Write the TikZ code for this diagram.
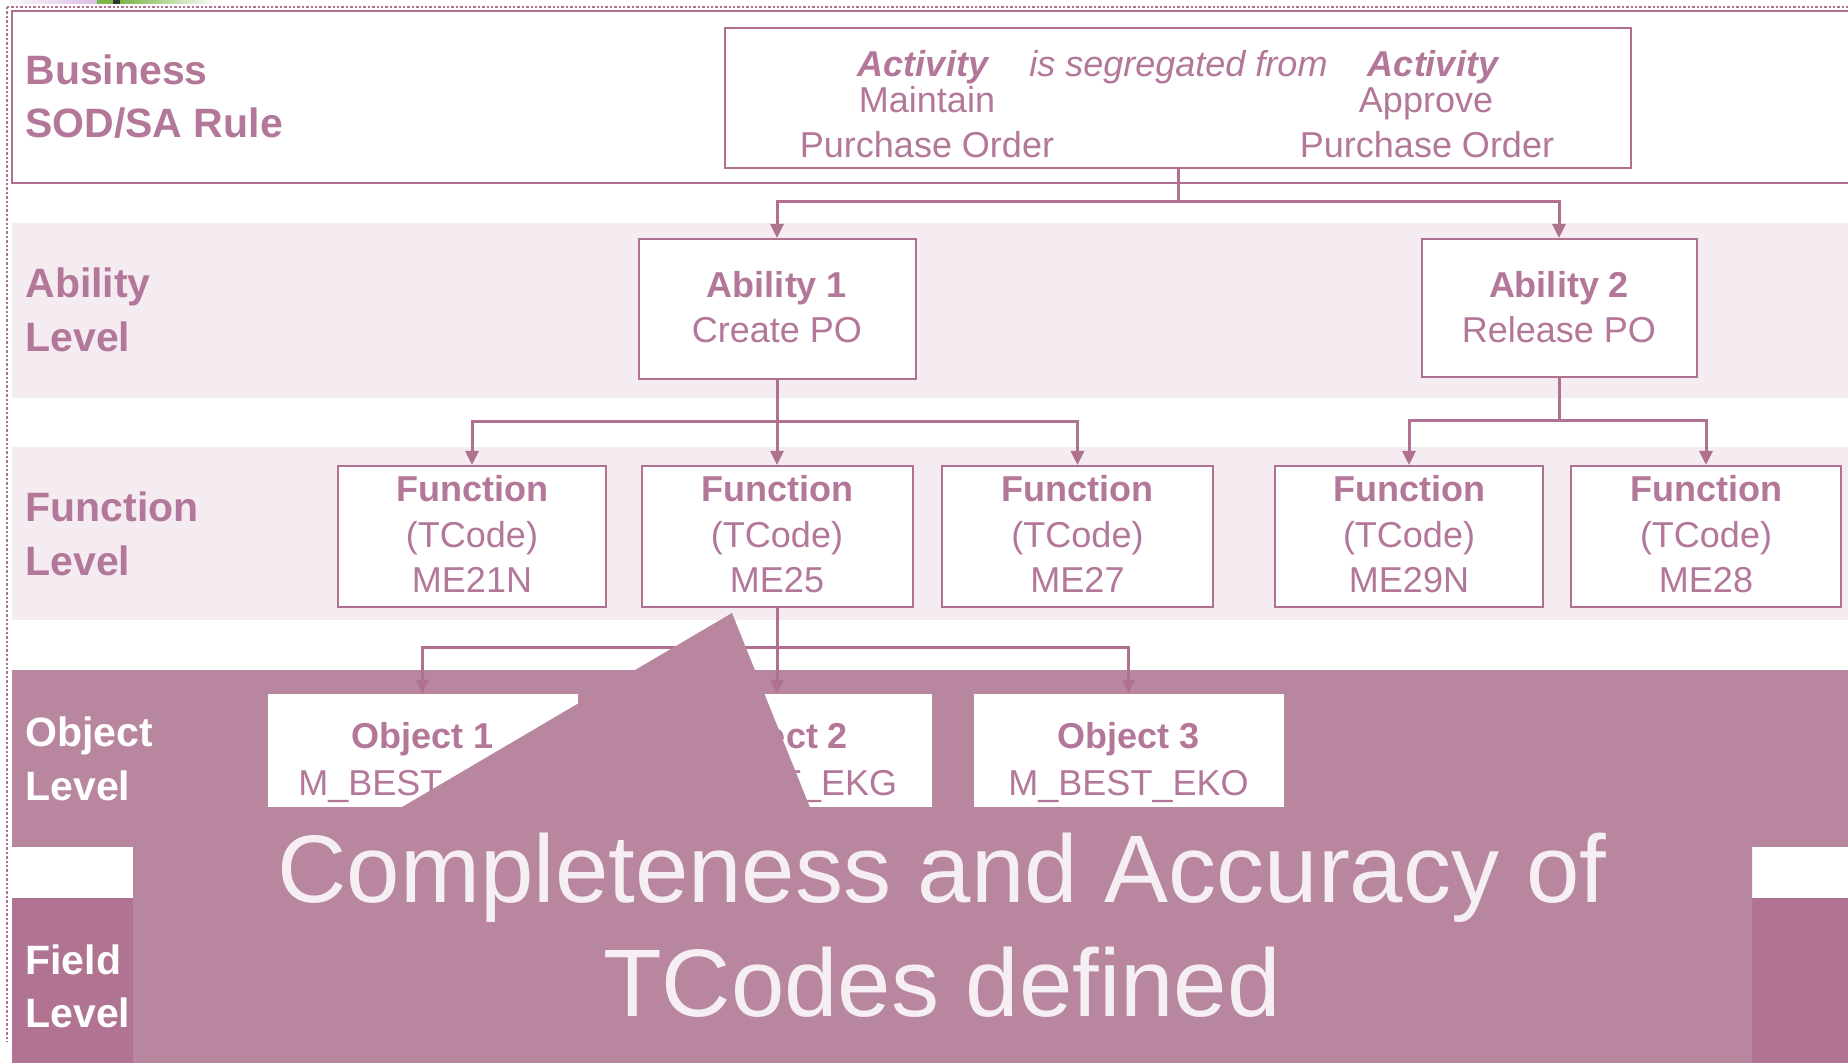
\documentclass[tikz,border=0pt]{standalone}
\usepackage{fontspec}
\setmainfont{Liberation Sans}
\usetikzlibrary{arrows.meta}
\definecolor{linecol}{HTML}{B0708F}
\definecolor{txtcol}{HTML}{B3779A}
\definecolor{lightband}{HTML}{F4ECF0}
\definecolor{objband}{HTML}{B9869F}
\definecolor{fieldband}{HTML}{B07492}
\definecolor{calltxt}{HTML}{F5EEF2}
\definecolor{artgreen}{HTML}{7AB648}
\definecolor{artlav}{HTML}{D9BDE3}
\begin{document}
\begin{tikzpicture}[x=0.5pt,y=-0.5pt,
  box/.style={draw=linecol,line width=1pt,fill=white,inner sep=0pt},
  objbox/.style={fill=white,inner sep=0pt},
  conn/.style={draw=linecol,line width=1.5pt},
  arr/.style={conn,-{Triangle[length=7pt,width=6.5pt]}},
  lvl/.style={anchor=base west,font=\fontsize{20.5pt}{24pt}\selectfont\bfseries,text=txtcol,inner sep=0pt},
  lvlw/.style={lvl,text=white},
  bt/.style={anchor=base,font=\fontsize{18pt}{22pt}\selectfont\bfseries,text=txtcol,inner sep=0pt},
  rt/.style={anchor=base,font=\fontsize{18pt}{22pt}\selectfont,text=txtcol,inner sep=0pt},
  bit/.style={anchor=base,font=\fontsize{18pt}{22pt}\selectfont\bfseries\itshape,text=txtcol,inner sep=0pt},
  itx/.style={anchor=base west,font=\fontsize{18pt}{22pt}\selectfont\itshape,text=txtcol,inner sep=0pt},
  bigt/.style={anchor=base,font=\fontsize{48pt}{57pt}\selectfont,text=calltxt,inner sep=0pt},
  dotline/.style={draw=linecol,line width=1pt,dash pattern=on 1.2pt off 1pt}]
\useasboundingbox (0,0) rectangle (1848,1063);
\fill[white] (0,0) rectangle (1848,1063);
% top-left artifact
\shade[left color=white,right color=artlav] (0,0) rectangle (97,4);
\fill[artgreen] (97,0) rectangle (113,4);
\fill[black!80] (113,0) rectangle (120,4);
\shade[left color=artgreen,right color=white] (120,0) rectangle (218,4);
% bands
\draw[linecol,line width=1pt] (1848,11) -- (12,11) -- (12,183) -- (1848,183);
\fill[lightband] (12,223) rectangle (1848,398);
\fill[lightband] (12,447) rectangle (1848,620);
\fill[objband] (12,670) rectangle (1848,847);
\fill[fieldband] (12,898) rectangle (1848,1063);
% margin dotted lines
\draw[dotline] (7,7) -- (1848,7);
\draw[dotline] (7,7) -- (7,1042);
% level labels
\node[lvl] (lb1) at (25,85) {Business};
\node[lvl] (lb2) at (25,138) {SOD/SA Rule};
\node[lvl] (la1) at (25,298) {Ability};
\node[lvl] (la2) at (25,352) {Level};
\node[lvl] (lf1) at (25,522) {Function};
\node[lvl] (lf2) at (25,576) {Level};
\node[lvlw] (lo1) at (25,747) {Object};
\node[lvlw] (lo2) at (25,800) {Level};
\node[lvlw] (lfl1) at (25,974) {Field};
\node[lvlw] (lfl2) at (25,1027) {Level};
% rule box
\node[box,minimum width=453pt,minimum height=70pt] (rule) at (1178,98) {};
\node[bit] (act1) at (923,77) {Activity};
\node[itx] (seg) at (1029,77) {is segregated from};
\node[bit] (act2) at (1433,77) {Activity};
\node[rt] (m1) at (927,113) {Maintain};
\node[rt] (m2) at (1426,113) {Approve};
\node[rt] (p1) at (927,158) {Purchase Order};
\node[rt] (p2) at (1427,158) {Purchase Order};
% ability boxes
\node[box,minimum width=138.5pt,minimum height=70pt] (a1) at (777,309) {};
\node[bt] (a1t) at (777,298) {Ability 1};
\node[rt] (a1s) at (777,343) {Create PO};
\node[box,minimum width=137.5pt,minimum height=69pt] (a2) at (1559,308) {};
\node[bt] (a2t) at (1559,298) {Ability 2};
\node[rt] (a2s) at (1559,343) {Release PO};
% function boxes
\foreach \nm/\cx/\w/\code in {f1/472/134/ME21N, f2/777/135.5/ME25, f3/1077.5/135.5/ME27, f4/1409/134/ME29N, f5/1706/135/ME28}{
  \node[box,minimum width=\w pt,minimum height=70.5pt] (\nm) at (\cx,536.5) {};
  \node[bt] (\nm t) at (\cx,502) {Function};
  \node[rt] (\nm p) at (\cx,548) {(TCode)};
  \node[rt] (\nm c) at (\cx,593) {\code};
}
% object boxes
\node[objbox,minimum width=155pt,minimum height=56.5pt] (o1) at (422.5,750.5) {};
\node[bt] (o1t) at (422.5,748) {Object 1};
\node[rt,anchor=base west] (o1c) at (298,795) {M\_BEST};
\node[objbox,minimum width=155pt,minimum height=56.5pt] (o2) at (777,750.5) {};
\node[bt] (o2t) at (777,748) {Object 2};
\node[rt] (o2c) at (777,795) {M\_BEST\_EKG};
\node[objbox,minimum width=155pt,minimum height=56.5pt] (o3) at (1128.5,750.5) {};
\node[bt] (o3t) at (1128.5,748) {Object 3};
\node[rt] (o3c) at (1128.5,795) {M\_BEST\_EKO};
% connectors
\coordinate (j0) at (1178,202);
\draw[conn] (rule.south) -- (j0);
\draw[arr] (j0) -| (a1.north);
\draw[arr] (j0) -| (a2.north);
\coordinate (j1) at (777,422);
\draw[conn] (a1.south) -- (j1);
\draw[arr] (j1) -| (f1.north);
\draw[arr] (j1) -- (f2.north);
\draw[arr] (j1) -| (f3.north);
\coordinate (j2) at (1559,421);
\draw[conn] (a2.south) -- (j2);
\draw[arr] (j2) -| (f4.north);
\draw[arr] (j2) -| (f5.north);
\coordinate (j3) at (777,648);
\draw[conn] (f2.south) -- (j3);
\draw[arr] (j3) -| (o1.north);
\draw[arr] (j3) -- (o2.north);
\draw[arr] (j3) -| (o3.north);
% callout
\fill[objband] (133,830) -- (363,830) -- (732,613) -- (819,830) -- (1752,830) -- (1752,1063) -- (133,1063) -- cycle;
\node[bigt] (c1) at (942,902) {Completeness and Accuracy of};
\node[bigt] (c2) at (942,1016) {TCodes defined};
\end{tikzpicture}
\end{document}
